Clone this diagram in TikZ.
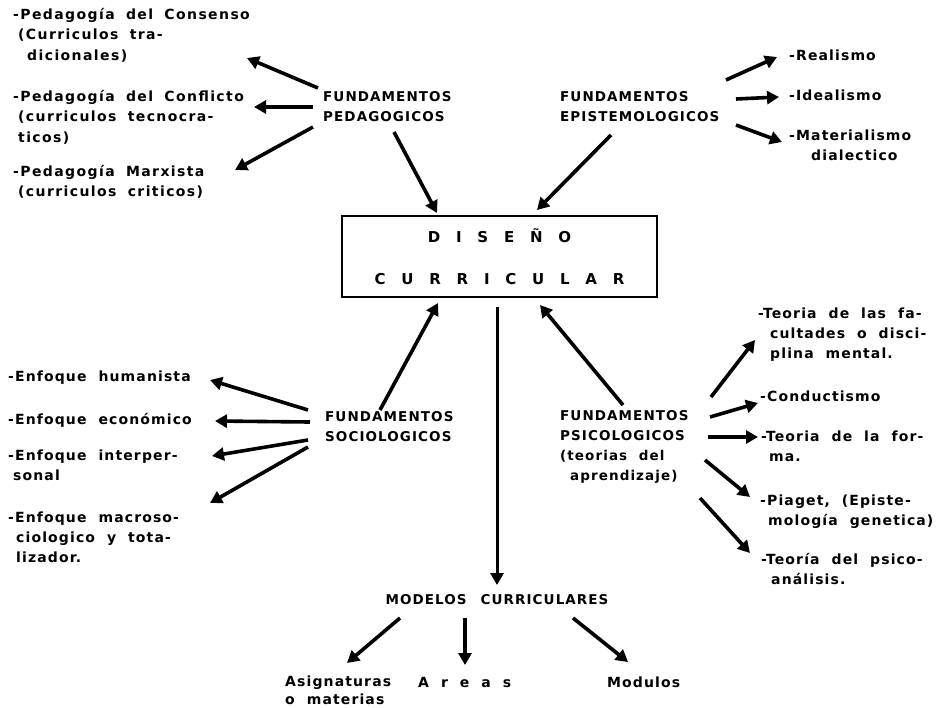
\documentclass[tikz,border=0pt]{standalone}
\usepackage{fontspec}
\usetikzlibrary{arrows.meta}
\newfontfamily\bodyf{DejaVu Sans Bold}[LetterSpace=8,WordSpace=2.0]
\newfontfamily\pedf{DejaVu Sans Bold}[LetterSpace=10,WordSpace=1.8]
\newfontfamily\widef{DejaVu Sans Bold}[LetterSpace=13,WordSpace=2.2]
\begin{document}
\begin{tikzpicture}[x=1pt,y=-1pt,
  arr/.style={line width=3.6pt,-{Triangle[length=12pt,width=13pt]}},
  txt/.style={font=\bodyf\fontsize{14}{20}\selectfont,align=left,inner sep=0pt,anchor=north west},
  ped/.style={txt,font=\pedf\fontsize{14}{20.5}\selectfont},
  head/.style={txt,font=\bodyf\fontsize{13.5}{20}\selectfont},
  wide/.style={font=\widef\fontsize{15}{42}\selectfont,align=center,inner sep=0pt}]
\useasboundingbox (0,0) rectangle (948,707);
% texts
\node[ped] (pc) at (13,8) {-Pedagogía del Consenso\\\hspace*{5pt}(Curriculos tra-\\\hspace*{14pt}dicionales)};
\node[ped] (pf) at (13,90) {-Pedagogía del Conflicto\\\hspace*{5pt}(curriculos tecnocra-\\\hspace*{5pt}ticos)};
\node[ped] (pm) at (13,165) {-Pedagogía Marxista\\\hspace*{5pt}(curriculos criticos)};
\node[head] (fp) at (323,91) {FUNDAMENTOS\\PEDAGOGICOS};
\node[head] (fe) at (560,91) {FUNDAMENTOS\\EPISTEMOLOGICOS};
\node[txt] (re) at (789,50) {-Realismo};
\node[txt] (id) at (789,90) {-Idealismo};
\node[txt] (ma) at (789,130) {-Materialismo\\\hspace*{22pt}dialectico};
\node[wide,draw,line width=2.8pt,minimum width=315pt,minimum height=81pt] (box) at (499.5,256.5) {D I S E Ñ O\\C U R R I C U L A R};
\node[txt] (eh) at (8,371) {-Enfoque humanista};
\node[txt] (ee) at (8,413) {-Enfoque económico};
\node[txt] (ei) at (8,450) {-Enfoque interper-\\\hspace*{5pt}sonal};
\node[txt] (em) at (8,512) {-Enfoque macroso-\\\hspace*{8pt}ciologico y tota-\\\hspace*{8pt}lizador.};
\node[head] (fs) at (325,411) {FUNDAMENTOS\\SOCIOLOGICOS};
\node[head] (ps) at (560,410) {FUNDAMENTOS\\PSICOLOGICOS\\(teorias del\\\hspace*{10pt}aprendizaje)};
\node[txt] (t1) at (758,308) {-Teoria de las fa-\\\hspace*{12pt}cultades o disci-\\\hspace*{12pt}plina mental.};
\node[txt] (t2) at (760,391) {-Conductismo};
\node[txt] (t3) at (761,431) {-Teoria de la for-\\\hspace*{8pt}ma.};
\node[txt] (t4) at (760,495) {-Piaget, (Episte-\\\hspace*{8pt}mología genetica)};
\node[txt] (t5) at (761,553) {-Teoría del psico-\\\hspace*{10pt}análisis.};
\node[head,anchor=center] (mc) at (497,600) {MODELOS\hspace{14pt}CURRICULARES};
\node[txt,font=\bodyf\fontsize{14}{18}\selectfont] (as) at (285,676) {Asignaturas\\o materias};
\node[txt] (ar) at (418,677) {A\hspace{12pt}r\hspace{12pt}e\hspace{12pt}a\hspace{12pt}s};
\node[txt] (mo) at (607,677) {Modulos};
% connector ends
\coordinate (fp1) at (318,88);  \coordinate (pc1) at (247,58);
\coordinate (fp2) at (313,107); \coordinate (pf1) at (254,107);
\coordinate (fp3) at (313,127); \coordinate (pm1) at (235,170);
\coordinate (fp4) at (394,132); \coordinate (bx1) at (437,213);
\coordinate (fe1) at (726,80);  \coordinate (re1) at (777,57);
\coordinate (fe2) at (736,99);  \coordinate (id1) at (779,97);
\coordinate (fe3) at (736,125); \coordinate (ma1) at (782,142);
\coordinate (fe4) at (611,135); \coordinate (bx2) at (537,210);
\coordinate (fs0) at (380,410); \coordinate (bx3) at (438,303);
\coordinate (fs1) at (308,410); \coordinate (eh1) at (210,380);
\coordinate (fs2) at (310,422); \coordinate (ee1) at (215,421);
\coordinate (fs3) at (308,440); \coordinate (ei1) at (212,456);
\coordinate (fs4) at (308,447); \coordinate (em1) at (210,503);
\coordinate (ps0) at (623,405); \coordinate (bx4) at (540,305);
\coordinate (ps1) at (711,397); \coordinate (t1a) at (755,340);
\coordinate (ps2) at (710,417); \coordinate (t2a) at (758,403);
\coordinate (ps3) at (708,437); \coordinate (t3a) at (758,437);
\coordinate (ps4) at (705,460); \coordinate (t4a) at (750,497);
\coordinate (ps5) at (700,498); \coordinate (t5a) at (750,553);
\coordinate (bx5) at (497,307); \coordinate (mc0) at (497,585);
\coordinate (mc1) at (400,618); \coordinate (as1) at (347,663);
\coordinate (mc2) at (465,618); \coordinate (ar1) at (465,665);
\coordinate (mc3) at (573,618); \coordinate (mo1) at (628,662);
% connectors
\draw[arr] (fp1) -- (pc1);
\draw[arr] (fp2) -- (pf1);
\draw[arr] (fp3) -- (pm1);
\draw[arr] (fp4) -- (bx1);
\draw[arr] (fe1) -- (re1);
\draw[arr] (fe2) -- (id1);
\draw[arr] (fe3) -- (ma1);
\draw[arr] (fe4) -- (bx2);
\draw[arr] (fs0) -- (bx3);
\draw[arr] (fs1) -- (eh1);
\draw[arr] (fs2) -- (ee1);
\draw[arr] (fs3) -- (ei1);
\draw[arr] (fs4) -- (em1);
\draw[arr] (ps0) -- (bx4);
\draw[arr] (ps1) -- (t1a);
\draw[arr] (ps2) -- (t2a);
\draw[arr] (ps3) -- (t3a);
\draw[arr] (ps4) -- (t4a);
\draw[arr] (ps5) -- (t5a);
\draw[arr,line width=3pt] (bx5) -- (mc0);
\draw[arr] (mc1) -- (as1);
\draw[arr] (mc2) -- (ar1);
\draw[arr] (mc3) -- (mo1);
\end{tikzpicture}
\end{document}
